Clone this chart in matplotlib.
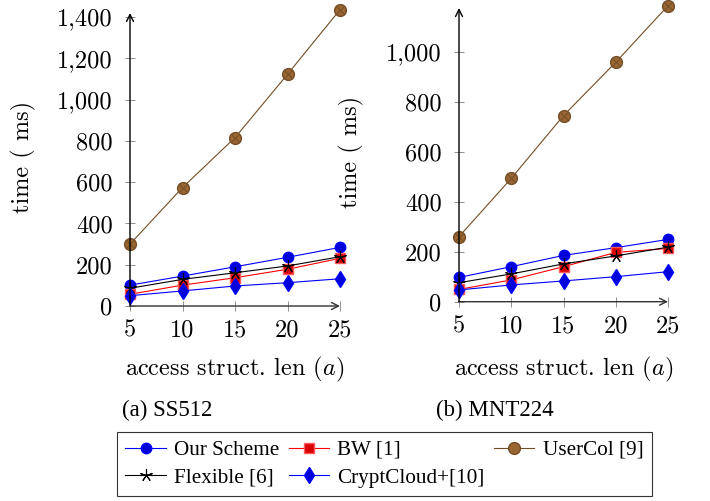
import matplotlib
matplotlib.use("Agg")
import matplotlib.pyplot as plt
from matplotlib.lines import Line2D
from matplotlib.ticker import FuncFormatter

# access structure lengths
lengths = [5, 10, 15, 20, 25]

# SS512 timings (ms)
ss_ours = [101, 145, 190, 236, 284]
ss_bw = [57, 101, 137, 178, 231]
ss_usercol = [300, 574, 816, 1123, 1436]
ss_flexible = [86, 129, 161, 194, 239]
ss_cryptcloud = [50, 73, 97, 113, 132]

# MNT224 timings (ms)
mnt_ours = [97, 140, 185, 216, 249]
mnt_bw = [49, 87, 140, 197, 213]
mnt_usercol = [260, 493, 744, 957, 1183]
mnt_flexible = [76, 111, 151, 183, 218]
mnt_cryptcloud = [47, 67, 83, 100, 120]

series_names = ["Our Scheme", "BW [1]", "UserCol [9]", "Flexible [6]", "CryptCloud+[10]"]
left_yticks = [0, 200, 400, 600, 800, 1000, 1200, 1400]
right_yticks = [0, 200, 400, 600, 800, 1000]

plt.rcParams["mathtext.fontset"] = "cm"
CM = "cmr10"
TIMES = "Liberation Serif"

BROWN_LINE = (0.45, 0.30, 0.15)
BROWN_FILL = (0.60, 0.40, 0.20)

styles = {
    "Our Scheme": dict(color="blue", marker="o", ms=7.5, mfc=(0, 0, 0.85), mec="blue"),
    "BW [1]": dict(color="red", marker="s", ms=7, mfc=(0.85, 0, 0), mec=(1, 0.35, 0.35)),
    "UserCol [9]": dict(color=BROWN_LINE, marker="o", ms=8.5, mfc=BROWN_FILL, mec=BROWN_LINE),
    "Flexible [6]": dict(color="black", marker=(5, 2, 0), ms=9, mfc="black", mec="black", mew=0.8),
    "CryptCloud+[10]": dict(color="blue", marker="d", ms=8, mfc=(0, 0, 0.85), mec="blue"),
}


def draw_panel(ax, values, ymax, yticks):
    for name, ys in zip(series_names, values):
        ax.plot(lengths, ys, lw=0.8, clip_on=False, **styles[name])
        if name == "UserCol [9]":
            ax.plot(lengths, ys, ls="none", marker="x", ms=5.5, mew=0.7,
                    color=BROWN_LINE, clip_on=False)
    ax.set_xlim(5, 25)
    ax.set_ylim(0, ymax)
    ax.set_xticks(lengths)
    ax.set_yticks(yticks)
    ax.yaxis.set_major_formatter(FuncFormatter(lambda v, _: f"{v:,.0f}"))
    for side in ("top", "right", "left", "bottom"):
        ax.spines[side].set_visible(False)
    arrow = dict(arrowstyle="->,head_length=0.5,head_width=0.25", lw=1.0,
                 shrinkA=0, shrinkB=0)
    ax.annotate("", xy=(1.0, 0), xytext=(0, 0), xycoords="axes fraction",
                arrowprops=dict(arrow, color="#333333"))
    ax.annotate("", xy=(0, 1.0), xytext=(0, 0), xycoords="axes fraction",
                arrowprops=dict(arrow, color="black"))
    ax.tick_params(axis="both", direction="inout", length=7, width=0.6,
                   color="#808080", labelsize=17.5)
    ax.tick_params(axis="x", pad=6)
    ax.tick_params(axis="y", pad=9)
    for lab in ax.get_xticklabels() + ax.get_yticklabels():
        lab.set_family(CM)
    ax.set_xlabel("access struct. len ($a$)", family=CM, fontsize=17.5)
    ax.set_ylabel("time ( ms)", family=CM, fontsize=17.5)


fig = plt.figure(figsize=(7.1, 5.01), dpi=100)
ax1 = fig.add_axes([130 / 710, 195 / 501, 210 / 710, 293 / 501])
ax2 = fig.add_axes([459 / 710, 199.3 / 501, 209 / 710, 293.7 / 501])

draw_panel(ax1, [ss_ours, ss_bw, ss_usercol, ss_flexible, ss_cryptcloud], 1420, left_yticks)
draw_panel(ax2, [mnt_ours, mnt_bw, mnt_usercol, mnt_flexible, mnt_cryptcloud], 1174, right_yticks)

ax1.xaxis.set_label_coords(0.5, -0.168)
ax2.xaxis.set_label_coords(0.5, -0.18)
ax1.yaxis.set_label_coords(-0.45, 0.51)
ax2.yaxis.set_label_coords(-0.455, 0.51)

fig.text(167 / 710, 1 - 410 / 501, "(a) SS512", family=TIMES, fontsize=16.5,
         ha="center", va="center")
fig.text(495 / 710, 1 - 410 / 501, "(b) MNT224", family=TIMES, fontsize=16.5,
         ha="center", va="center")

# legend: column-major order gives rows Our/BW/UserCol and Flexible/CryptCloud
handles = {name: Line2D([], [], lw=0.8, **styles[name]) for name in series_names}
order = ["Our Scheme", "Flexible [6]", "BW [1]", "CryptCloud+[10]", "UserCol [9]"]
leg = fig.legend([handles[n] for n in order], order, loc="center",
                 bbox_to_anchor=(384.5 / 710, 1 - 464 / 501), ncol=3,
                 prop=dict(family=TIMES, size=15.2), frameon=True, fancybox=False,
                 edgecolor="black", handlelength=1.9, handletextpad=0.4,
                 columnspacing=0.45, labelspacing=0.38, borderpad=0.4)
leg.get_frame().set_linewidth(0.8)

fig.savefig("out.png", dpi=100)
